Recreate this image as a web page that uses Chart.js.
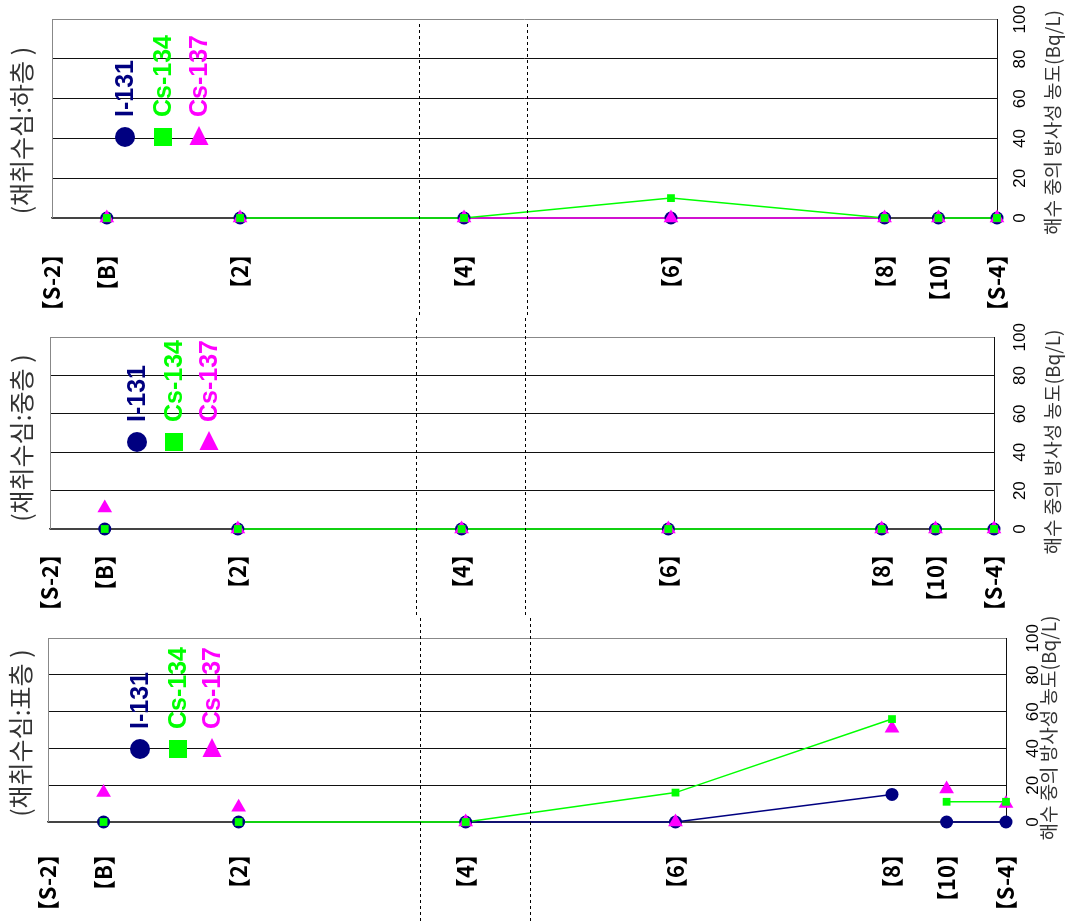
<!DOCTYPE html>
<html>
<head>
<meta charset="utf-8">
<script src="https://cdn.jsdelivr.net/npm/chart.js@4.4.1/dist/chart.umd.min.js"></script>
<style>
  html, body { margin: 0; padding: 0; background: #fff; }
  #wrap { position: relative; width: 1065px; height: 921px; overflow: hidden; }
  canvas { position: absolute; left: 0; }
</style>
</head>
<body>
<div id="wrap">
  <canvas id="lower" width="1065" height="315" style="top:0px"></canvas>
  <canvas id="middle" width="1065" height="300" style="top:315px"></canvas>
  <canvas id="surface" width="1065" height="306" style="top:615px"></canvas>
</div>
<script>
// stations along the section (S-2 ... S-4), position in relative distance
const stationLabels = ['【S-2】', '【B】', '【2】', '【4】', '【6】', '【8】', '【10】', '【S-4】'];
const stationPos = [0, 5.8, 19.9, 43.6, 65.5, 88.1, 93.8, 100];
const boundaryPos = [38.8, 50.3];
const valueTicks = [0, 20, 40, 60, 80, 100];
const nuclides = ['I-131', 'Cs-134', 'Cs-137'];

// values at B, 2, 4, 6, 8, 10, S-4 (Bq/L)
// 하층
const lowerI131 = [0, 0, 0, 0, 0, 0, 0];
const lowerCs134 = [0, 0, 0, 10, 0, 0, 0];
const lowerCs137 = [0, 0, 0, 0, 0, 0, 0];
// 중층
const midI131 = [0, 0, 0, 0, 0, 0, 0];
const midCs134 = [0, 0, 0, 0, 0, 0, 0];
const midCs137 = [11, 0, 0, 0, 0, 0, 0];
// 표층
const surfI131 = [0, 0, 0, 0, 15, 0, 0];
const surfCs134 = [0, 0, 0, 16, 56, 11, 11];
const surfCs137 = [16, 8, 0, 0, 51, 18, 10];

// connecting lines between neighbours: B-2, 2-4, 4-6, 6-8, 8-10, 10-S4
const lowerLinkI131 = [0, 0, 0, 0, 0, 0];
const lowerLinkCs134 = [0, 1, 1, 1, 0, 1];
const lowerLinkCs137 = [0, 0, 1, 1, 0, 0];
const midLinkI131 = [0, 0, 0, 0, 0, 0];
const midLinkCs134 = [0, 1, 1, 1, 0, 1];
const midLinkCs137 = [0, 0, 0, 0, 0, 0];
const surfLinkI131 = [0, 0, 1, 1, 0, 1];
const surfLinkCs134 = [0, 1, 1, 1, 0, 1];
const surfLinkCs137 = [0, 0, 0, 0, 0, 0];

const colors = ['#000080', '#00ff00', '#ff00ff'];
const shapes = ['circle', 'rect', 'triangle'];
const radii = [6.5, 5.5, 8.5];
const korFont = '"Noto Sans CJK KR", "Noto Sans", sans-serif';

function buildDatasets(values, links) {
  const markers = [];
  const lines = [];
  // squares on top, then triangles, circles at the bottom
  [1, 2, 0].forEach(k => {
    const pts = values[k].map((v, i) => ({ x: stationPos[i + 1], y: v }));
    markers.push({
      label: nuclides[k],
      data: pts,
      showLine: false,
      pointStyle: shapes[k],
      pointRadius: radii[k],
      pointBackgroundColor: colors[k],
      pointBorderWidth: 0,
      clip: false,
      order: 0
    });
    lines.push({
      label: nuclides[k] + ' line',
      data: pts,
      pointRadius: 0,
      borderWidth: 1.5,
      borderColor: colors[k],
      segment: {
        borderColor: c => links[k][c.p0DataIndex] ? colors[k] : 'rgba(0,0,0,0)'
      },
      clip: false,
      order: 1
    });
  });
  return markers.concat(lines);
}

function decor(p) {
  return {
    id: 'decor',
    beforeDatasetsDraw(chart) {
      const { ctx, chartArea: a } = chart;
      ctx.save();
      ctx.strokeStyle = '#888';
      ctx.lineWidth = 1;
      ctx.beginPath();
      ctx.moveTo(a.left + 0.5, a.top);
      ctx.lineTo(a.left + 0.5, a.bottom);
      ctx.stroke();
      ctx.restore();
    },
    afterDraw(chart) {
      const { ctx, chartArea: a, scales: { x } } = chart;
      ctx.save();
      // section boundaries, dashed, running through the whole figure
      // (dash phase kept in step across the three canvases)
      ctx.fillStyle = '#000';
      let y0 = p.dashFromArea ? a.top : 0;
      y0 += (6 - (p.offset + y0) % 6) % 6;
      boundaryPos.forEach(v => {
        const px = Math.round(x.getPixelForValue(v));
        for (let y = y0; y < chart.height; y += 6) {
          ctx.fillRect(px, y, 1, 3);
        }
      });
      // legend
      const ly = a.bottom - p.legendRise;
      p.legendX.forEach((dx, k) => {
        const lx = a.left + dx;
        ctx.fillStyle = colors[k];
        ctx.beginPath();
        if (k === 0) {
          ctx.arc(lx, ly, 10, 0, Math.PI * 2);
        } else if (k === 1) {
          ctx.rect(lx - 9, ly - 9, 18, 18);
        } else {
          ctx.moveTo(lx, ly - 11);
          ctx.lineTo(lx + 9.5, ly + 8);
          ctx.lineTo(lx - 9.5, ly + 8);
          ctx.closePath();
        }
        ctx.fill();
        ctx.save();
        ctx.translate(lx + 1, ly - 20);
        ctx.rotate(-Math.PI / 2);
        ctx.font = 'bold 25px "Liberation Sans", Arial, sans-serif';
        ctx.textAlign = 'left';
        ctx.textBaseline = 'middle';
        ctx.fillText(nuclides[k], 0, 0);
        ctx.restore();
      });
      // panel title on the left
      ctx.fillStyle = '#333';
      ctx.save();
      ctx.translate(p.titleX, (a.top + a.bottom) / 2 + p.titleShift);
      ctx.rotate(-Math.PI / 2);
      ctx.font = '25px ' + korFont;
      ctx.textAlign = 'center';
      ctx.textBaseline = 'middle';
      ctx.fillText(p.title, 0, 0);
      ctx.restore();
      // value axis title on the right
      ctx.save();
      ctx.translate(p.axisTitleX, (a.top + a.bottom) / 2 + p.axisTitleShift);
      ctx.rotate(-Math.PI / 2);
      ctx.font = '19px ' + korFont;
      ctx.textAlign = 'center';
      ctx.textBaseline = 'middle';
      ctx.fillText('해수 중의 방사성 농도(Bq/L)', 0, 0);
      ctx.restore();
      ctx.restore();
    }
  };
}

function makePanel(id, p, values, links) {
  const canvas = document.getElementById(id);
  new Chart(canvas, {
    type: 'line',
    data: { datasets: buildDatasets(values, links) },
    options: {
      responsive: false,
      animation: false,
      events: [],
      layout: { padding: { left: p.left, top: p.top, right: 0, bottom: 0 } },
      plugins: { legend: { display: false }, tooltip: { enabled: false } },
      scales: {
        x: {
          type: 'linear',
          min: 0,
          max: 100,
          afterBuildTicks: s => { s.ticks = stationPos.map(v => ({ value: v })); },
          afterFit: s => { s.height = p.xHeight; },
          grid: { display: false },
          border: { color: '#444', width: 1.5 },
          ticks: {
            autoSkip: false,
            minRotation: 90,
            maxRotation: 90,
            padding: p.xPad,
            color: '#000',
            font: { family: korFont, size: 22, weight: 'bold' },
            callback: (v, i) => stationLabels[i]
          }
        },
        y: {
          position: 'right',
          min: 0,
          max: 100,
          afterBuildTicks: s => { s.ticks = valueTicks.map(v => ({ value: v })); },
          afterFit: s => { s.width = p.yWidth; },
          grid: {
            drawTicks: false,
            lineWidth: 1,
            color: c => c.tick.value === 100 ? '#888' : (c.tick.value === 0 ? '#444' : '#111')
          },
          border: { color: '#111', width: 1 },
          ticks: {
            minRotation: 90,
            maxRotation: 90,
            crossAlign: 'center',
            padding: p.yPad,
            color: '#000',
            font: { family: '"Liberation Sans Narrow", "Liberation Sans", sans-serif', size: 17 }
          }
        }
      }
    },
    plugins: [decor(p)]
  });
}

makePanel('lower', {
  title: '(채취수심:하층 )', offset: 0, left: 52, top: 18, xHeight: 97, yWidth: 68, xPad: 17, yPad: 9,
  legendX: [73, 111, 147], legendRise: 81, titleX: 21, titleShift: 12,
  axisTitleX: 1053, axisTitleShift: 4, dashFromArea: true
}, [lowerI131, lowerCs134, lowerCs137], [lowerLinkI131, lowerLinkCs134, lowerLinkCs137]);

makePanel('middle', {
  title: '(채취수심:중층 )', offset: 315, left: 50, top: 1, xHeight: 86, yWidth: 71, xPad: 6, yPad: 12,
  legendX: [87, 124, 159], legendRise: 87, titleX: 21, titleShift: 5,
  axisTitleX: 1053, axisTitleShift: 9, dashFromArea: false
}, [midI131, midCs134, midCs137], [midLinkI131, midLinkCs134, midLinkCs137]);

makePanel('surface', {
  title: '(채취수심:표층 )', offset: 615, left: 48, top: 16, xHeight: 99, yWidth: 59, xPad: 13, yPad: 13,
  legendX: [92, 130, 164], legendRise: 73, titleX: 20, titleShift: 3,
  axisTitleX: 1049, axisTitleShift: -2, dashFromArea: false
}, [surfI131, surfCs134, surfCs137], [surfLinkI131, surfLinkCs134, surfLinkCs137]);
</script>
</body>
</html>
